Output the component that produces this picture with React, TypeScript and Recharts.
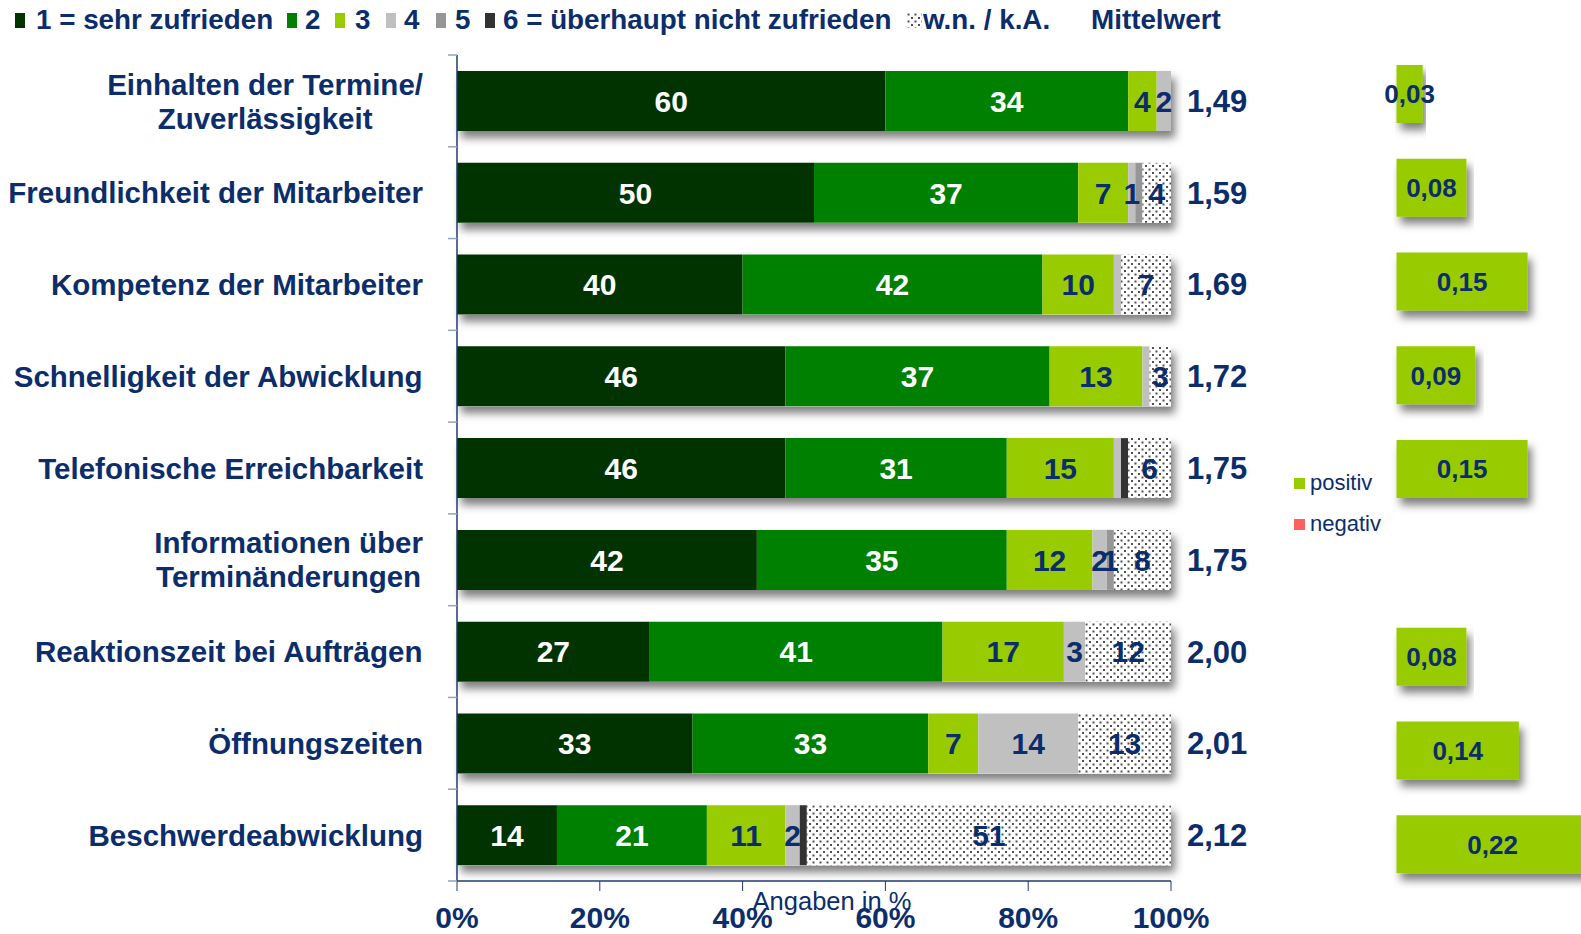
import React from 'react';
import { BarChart, Bar, XAxis, YAxis, LabelList, Label } from 'recharts';

// ---------- data ----------
const categories = [
  'Einhalten der Termine/\nZuverlässigkeit',
  'Freundlichkeit der Mitarbeiter',
  'Kompetenz der Mitarbeiter',
  'Schnelligkeit der Abwicklung',
  'Telefonische Erreichbarkeit',
  'Informationen über\nTerminänderungen',
  'Reaktionszeit bei Aufträgen',
  'Öffnungszeiten',
  'Beschwerdeabwicklung',
];
const s1 = [60, 50, 40, 46, 46, 42, 27, 33, 14];
const s2 = [34, 37, 42, 37, 31, 35, 41, 33, 21];
const s3 = [4, 7, 10, 13, 15, 12, 17, 7, 11];
const s4 = [2, 1, 1, 1, 1, 2, 3, 14, 2];
const s5 = [0, 1, 0, 0, 0, 1, 0, 0, 0];
const s6 = [0, 0, 0, 0, 1, 0, 0, 0, 1];
const wn = [0, 4, 7, 3, 6, 8, 12, 13, 51];
const means = [1.49, 1.59, 1.69, 1.72, 1.75, 1.75, 2.0, 2.01, 2.12];
const deltas: (number | null)[] = [0.03, 0.08, 0.15, 0.09, 0.15, null, 0.08, 0.14, 0.22];
const xTicks = [0, 20, 40, 60, 80, 100];
const seriesNames = ['1 = sehr zufrieden', '2', '3', '4', '5', '6 = überhaupt nicht zufrieden', 'w.n. / k.A.'];
const deltaLegend = ['positiv', 'negativ'];
// rows whose segment value label is not printed in the original
const hiddenLabelRows: Record<string, number[]> = { s4: [2, 3, 4], s5: [1], s6: [4, 8] };

// ---------- styles ----------
const NAVY = '#0C2D6B';
const FONT = "'Liberation Sans', Arial, sans-serif";
const COLORS = ['#003300', '#008000', '#99CC00', '#C0C0C0', '#969696', '#333333', 'url(#dots)'];
const LABEL_COLORS = ['#FFFFFF', '#FFFFFF', NAVY, NAVY, NAVY, NAVY, NAVY];
const KEYS = ['s1', 's2', 's3', 's4', 's5', 's6', 'wn'];
const SERIES = [s1, s2, s3, s4, s5, s6, wn];
const POS_COLOR = '#99CC00';
const NEG_COLOR = '#FF6060';

const W = 1581;
const H = 934;
const PLOT_TOP = 55;
const PLOT_BOTTOM = 881;
const PLOT_LEFT = 457;
const PLOT_RIGHT = 1171;
const BAND = (PLOT_BOTTOM - PLOT_TOP) / categories.length;
const Y_TICK_MARGIN = 34;
const CAT_FONT_SIZE = 29.5;

const fmt = (v: number) => v.toFixed(2).replace('.', ',');

const data = categories.map((cat, i) => {
  const row: Record<string, any> = { cat, mean: means[i], delta: deltas[i] };
  let total = 0;
  KEYS.forEach((k, j) => {
    const v = SERIES[j][i];
    row[k] = v;
    total += v;
    const hidden = (hiddenLabelRows[k] || []).includes(i);
    row[`${k}Label`] = hidden || !v ? null : v;
  });
  row.total = total;
  return row;
});
const meanByCat: Record<string, string> = {};
categories.forEach((c, i) => { meanByCat[c] = fmt(means[i]); });

let ctx: CanvasRenderingContext2D | null = null;
const measure = (t: string, font: string) => {
  if (!ctx && typeof document !== 'undefined') ctx = document.createElement('canvas').getContext('2d');
  if (!ctx) return t.length * 15;
  ctx.font = font;
  return ctx.measureText(t).width;
};

const CatTick = (props: any) => {
  const { x, y, payload, index } = props;
  const lines = String(payload.value).split('\n');
  const font = `bold ${CAT_FONT_SIZE}px ${FONT}`;
  const maxW = Math.max(...lines.map((l) => measure(l, font)));
  const cx = x - maxW / 2;
  const axisX = x + Y_TICK_MARGIN;
  const lh = 34;
  return (
    <g>
      {lines.map((l, i) => (
        <text key={i} x={cx} y={y + (i - (lines.length - 1) / 2) * lh} dy="0.36em" textAnchor="middle"
          fill={NAVY} fontSize={CAT_FONT_SIZE} fontWeight="bold" fontFamily={FONT}>{l}</text>
      ))}
      <line x1={axisX - 9} x2={axisX} y1={y + BAND / 2} y2={y + BAND / 2} stroke="#8FA3C8" strokeWidth={1.5} />
      {index === 0 && <line x1={axisX - 9} x2={axisX} y1={y - BAND / 2} y2={y - BAND / 2} stroke="#8FA3C8" strokeWidth={1.5} />}
    </g>
  );
};

const makeSegLabel = (color: string) => (props: any) => {
  const vb = props.viewBox || props;
  const { x, y, width, height } = vb;
  const value = props.value;
  if (value === null || value === undefined || value === 0 || value === '') return null;
  return (
    <text x={x + width / 2} y={y + height / 2} dy="0.36em" textAnchor="middle" fill={color}
      fontSize={30} fontWeight="bold" fontFamily={FONT}>{value}</text>
  );
};

const deltaLabel = (props: any) => {
  const vb = props.viewBox || props;
  const { x, y, width, height } = vb;
  const value = props.value;
  if (value === null || value === undefined) return null;
  return (
    <text x={x + width / 2} y={y + height / 2} dy="0.36em" textAnchor="middle" fill={NAVY}
      fontSize={26} fontWeight="bold" fontFamily={FONT}>{fmt(Number(value))}</text>
  );
};

const AngabenLabel = (props: any) => {
  const vb = props.viewBox;
  if (!vb) return null;
  return (
    <text x={vb.x + vb.width / 2 + 18} y={vb.y + 20} dy="0.36em" textAnchor="middle" fill={NAVY}
      fontSize={25.5} fontFamily={FONT}>Angaben in %</text>
  );
};

const margins = { top: PLOT_TOP, bottom: 0, left: 0, right: 0 };
const legendTextStyle: React.CSSProperties = {
  position: 'absolute', top: 3, fontSize: 27.8, fontWeight: 'bold', color: NAVY, whiteSpace: 'nowrap', lineHeight: '34px',
};

export default function App() {
  const legendMarkerX = [15, 287, 335, 386, 436, 485, 907];
  const legendTextX = [36, 305, 355, 404, 455, 503, 923];
  return (
    <div style={{ position: 'absolute', left: 0, top: 0, width: W, height: H, overflow: 'hidden', background: '#fff', fontFamily: FONT }}>
      <svg width={0} height={0} style={{ position: 'absolute' }}>
        <defs>
          <pattern id="dots" patternUnits="userSpaceOnUse" width={7} height={7}>
            <rect width={7} height={7} fill="#FFFFFF" />
            <rect x={0.5} y={0.5} width={2} height={2} fill="#505050" />
            <rect x={4} y={4} width={2} height={2} fill="#505050" />
          </pattern>
          <filter id="shadow" x="-5%" y="-40%" width="115%" height="190%">
            <feDropShadow dx={4} dy={7} stdDeviation={4} floodColor="#000" floodOpacity={0.5} />
          </filter>
        </defs>
      </svg>

      {/* shadow layer */}
      <div style={{ position: 'absolute', left: 0, top: 0 }}>
        <BarChart layout="vertical" width={W} height={H} data={data} margin={margins}>
          <XAxis type="number" domain={[0, 100]} ticks={xTicks} height={H - PLOT_BOTTOM} tick={false} axisLine={false} tickLine={false} />
          <YAxis type="category" dataKey="cat" width={PLOT_LEFT} tick={false} axisLine={false} tickLine={false} />
          <YAxis yAxisId="mean" orientation="right" type="category" dataKey="cat" width={W - PLOT_RIGHT} tick={false} axisLine={false} tickLine={false} />
          <Bar dataKey="total" fill="#fff" barSize={60} isAnimationActive={false} filter="url(#shadow)" />
        </BarChart>
      </div>

      {/* main chart */}
      <div style={{ position: 'absolute', left: 0, top: 0 }}>
        <BarChart layout="vertical" width={W} height={H} data={data} margin={margins}>
          <XAxis type="number" domain={[0, 100]} ticks={xTicks} tickFormatter={(v: number) => `${v}%`}
            height={H - PLOT_BOTTOM} tickSize={10} tickMargin={16}
            axisLine={{ stroke: '#1F3A73', strokeWidth: 1.5 }} tickLine={{ stroke: '#1F3A73', strokeWidth: 1 }}
            tick={{ fill: NAVY, fontSize: 30, fontWeight: 'bold', fontFamily: FONT }}>
            <Label content={<AngabenLabel />} />
          </XAxis>
          <YAxis type="category" dataKey="cat" width={PLOT_LEFT} interval={0} tickSize={0} tickMargin={Y_TICK_MARGIN}
            axisLine={{ stroke: '#1F3A73', strokeWidth: 1.5 }} tickLine={false} tick={<CatTick />} />
          <YAxis yAxisId="mean" orientation="right" type="category" dataKey="cat" width={W - PLOT_RIGHT} interval={0}
            tickSize={0} tickMargin={16} axisLine={false} tickLine={false}
            tickFormatter={(c: string) => meanByCat[c]}
            tick={{ fill: NAVY, fontSize: 31, fontWeight: 'bold', fontFamily: FONT, textAnchor: 'start' }} />
          {KEYS.map((k, i) => (
            <Bar key={k} dataKey={k} stackId="a" fill={COLORS[i]} barSize={60} isAnimationActive={false}>
              <LabelList dataKey={`${k}Label`} content={makeSegLabel(LABEL_COLORS[i])} />
            </Bar>
          ))}
        </BarChart>
      </div>

      {/* delta chart */}
      <div style={{ position: 'absolute', left: 0, top: 0 }}>
        <BarChart layout="vertical" width={1700} height={H} data={data} margin={{ top: 47, bottom: 43, left: 1396.5, right: 85 }}>
          <XAxis type="number" domain={[0, 0.25]} hide />
          <YAxis type="category" dataKey="cat" hide />
          <Bar dataKey="delta" fill={POS_COLOR} barSize={58} isAnimationActive={false} filter="url(#shadow)">
            <LabelList dataKey="delta" content={deltaLabel} />
          </Bar>
        </BarChart>
      </div>

      {/* top legend */}
      {seriesNames.map((name, i) => (
        <React.Fragment key={name}>
          <svg width={i === 6 ? 15 : 10} height={15} style={{ position: 'absolute', left: legendMarkerX[i], top: 13 }}>
            <rect width={i === 6 ? 15 : 10} height={15} fill={COLORS[i]} />
          </svg>
          <div style={{ ...legendTextStyle, left: legendTextX[i] }}>{name}</div>
        </React.Fragment>
      ))}
      <div style={{ ...legendTextStyle, left: 1091 }}>Mittelwert</div>

      {/* delta legend */}
      {deltaLegend.map((name, i) => (
        <React.Fragment key={name}>
          <div style={{ position: 'absolute', left: 1294, top: 478 + i * 41, width: 11, height: 11, background: i === 0 ? POS_COLOR : NEG_COLOR }} />
          <div style={{ position: 'absolute', left: 1310, top: 469 + i * 41, fontSize: 22, color: NAVY, whiteSpace: 'nowrap', lineHeight: '28px' }}>{name}</div>
        </React.Fragment>
      ))}
    </div>
  );
}
